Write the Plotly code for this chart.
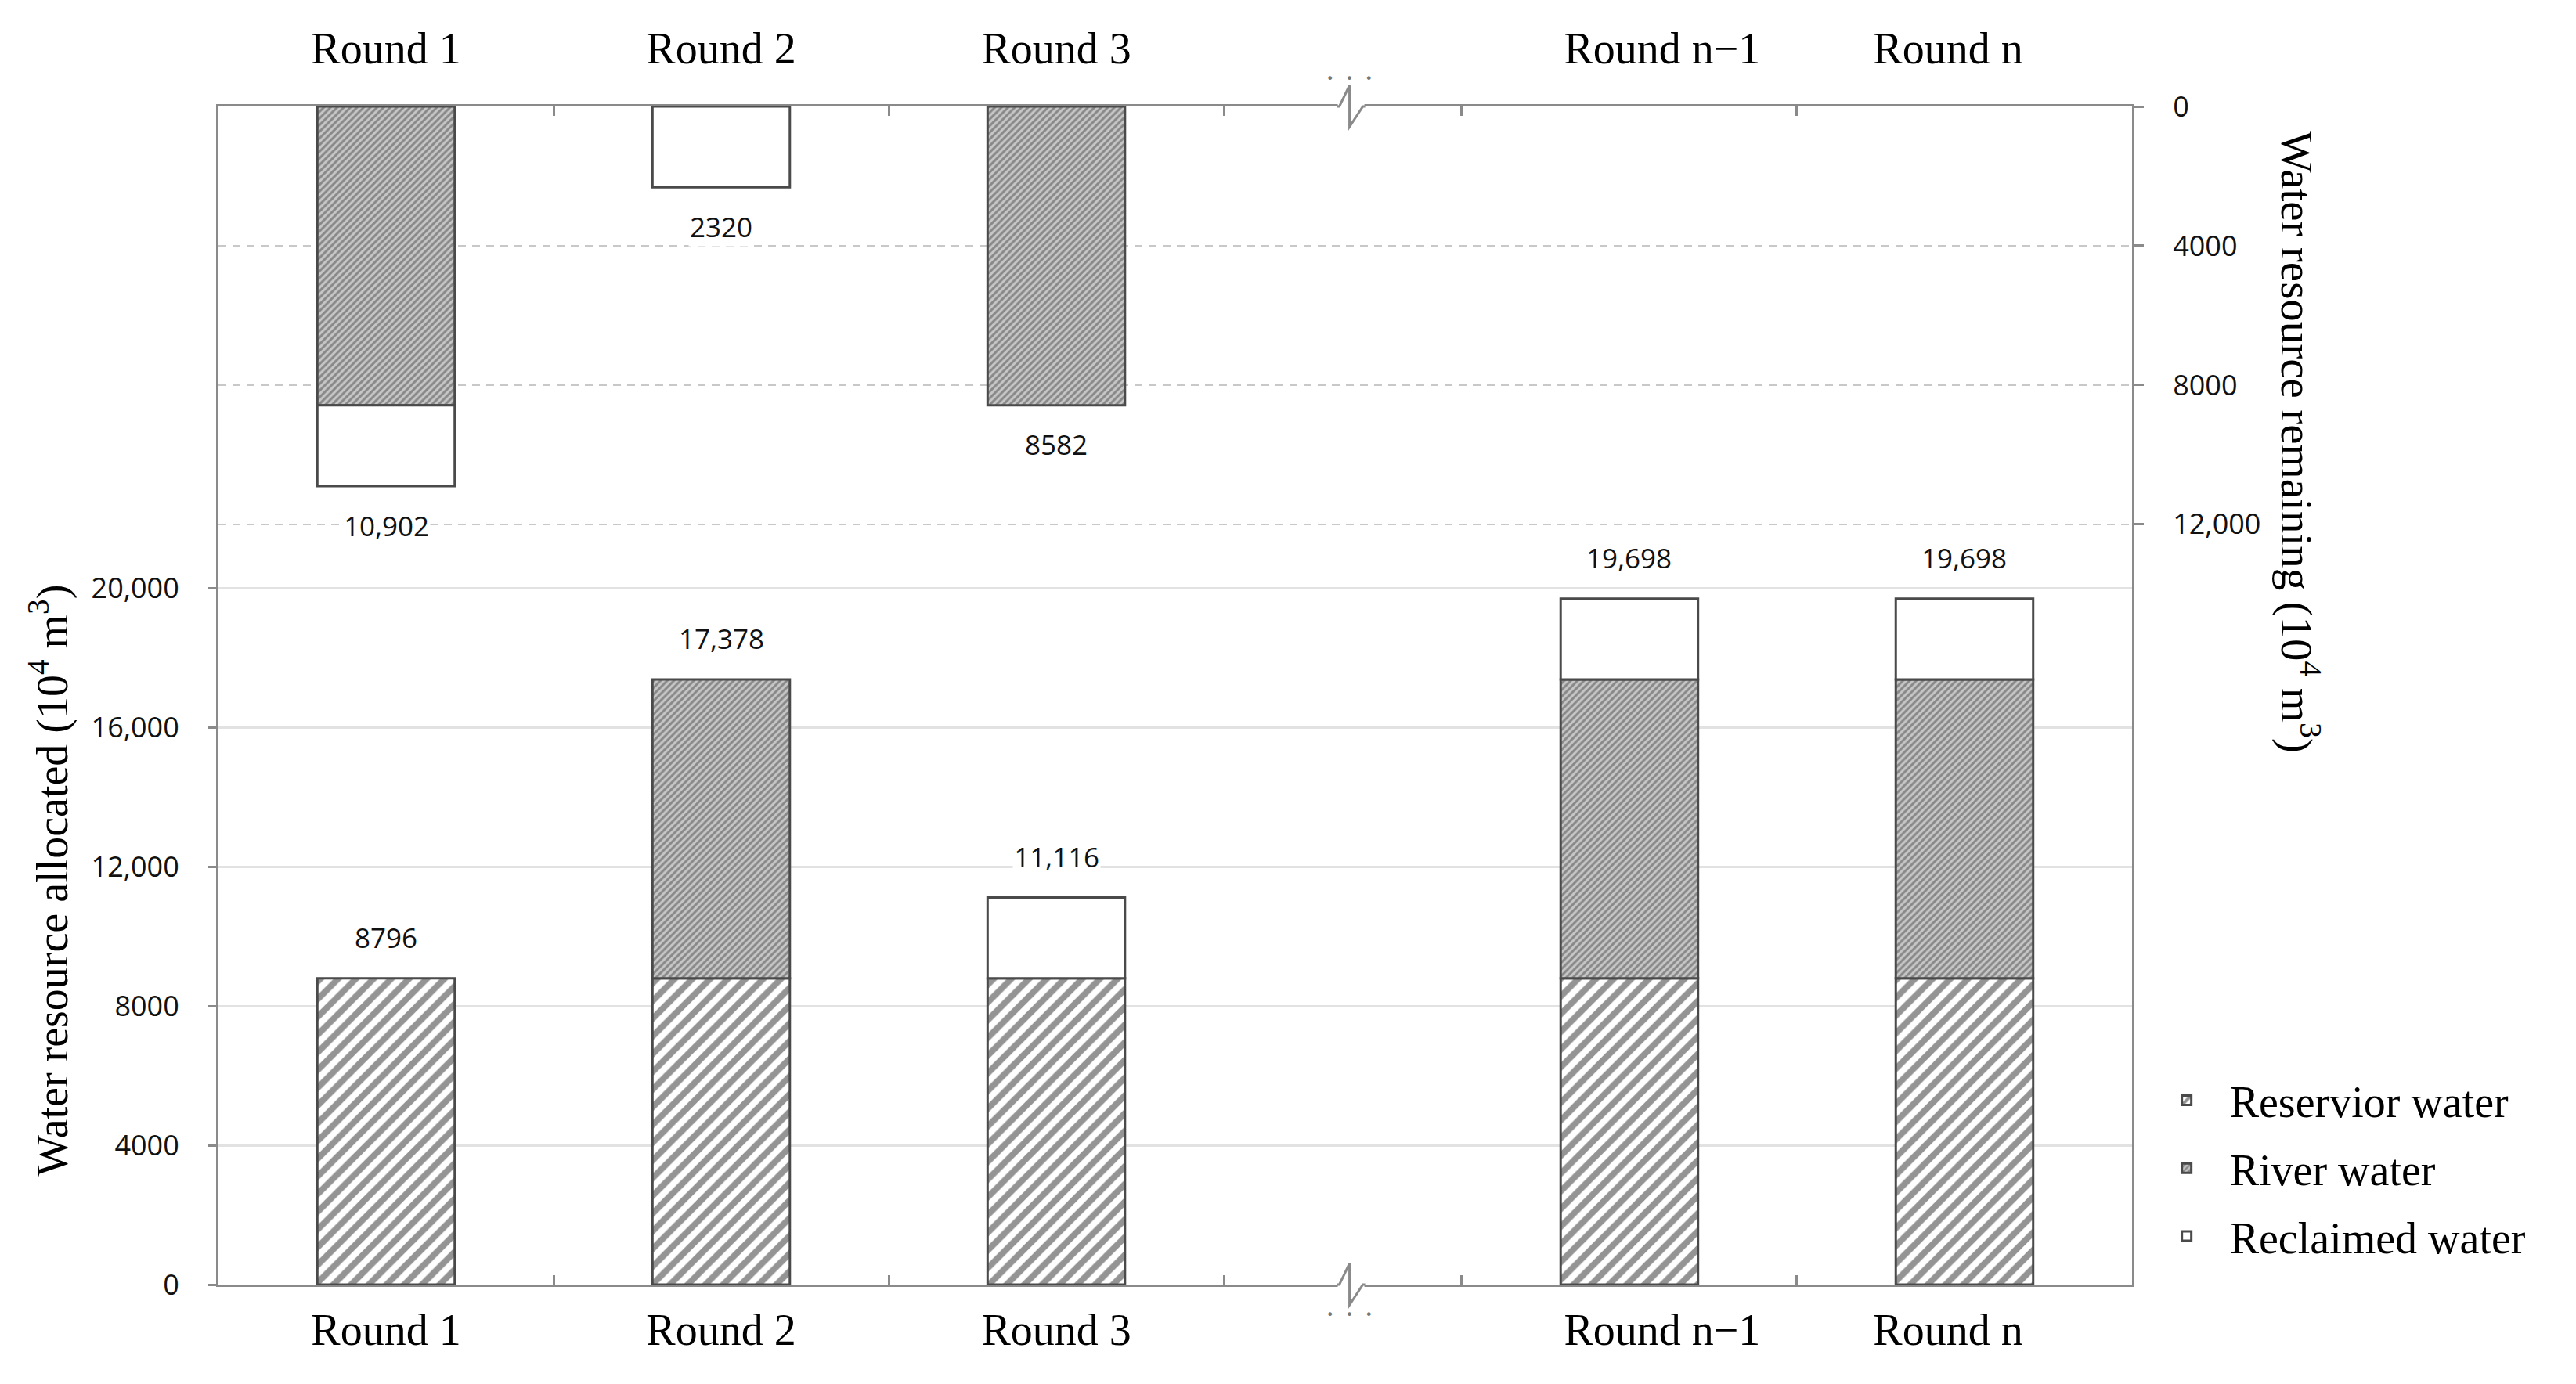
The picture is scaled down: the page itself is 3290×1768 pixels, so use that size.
import plotly.graph_objects as go

# ---------------- data ----------------
categories = ["Round 1", "Round 2", "Round 3", "Round n\u22121", "Round n"]

# water resource allocated (bottom bars, left axis)
alloc_reservoir = [8796, 8796, 8796, 8796, 8796]
alloc_river = [0, 8582, 0, 8582, 8582]
alloc_reclaimed = [0, 0, 2320, 2320, 2320]

# water resource remaining (top bars, right reversed axis)
remain_river = [8582, 0, 8582, 0, 0]
remain_reclaimed = [2320, 2320, 0, 0, 0]

left_ticks = [0, 4000, 8000, 12000, 16000, 20000]
right_ticks = [0, 4000, 8000, 12000]

series_names = ["Reservior water", "River water", "Reclaimed water"]

# ---------------- style ----------------
SERIF = "Liberation Serif, Times New Roman, serif"
NUMF = "Open Sans, DejaVu Sans, sans-serif"
AXIS = "#8a8a8a"
EDGE = "#4a4a4a"
Y_MAX = 33830
BAR_W = 0.41
GAP = 0.71          # extra space for the axis break
BREAK_AFTER = 3     # break between index 2 and 3
LABEL_NUDGE = [0, 0, 0, 0.098, -0.049]   # category label placement tweak

x_pos = [i + (GAP if i >= BREAK_AFTER else 0) for i in range(len(categories))]
label_pos = [p + d for p, d in zip(x_pos, LABEL_NUDGE)]
x_range = [x_pos[0] - 0.5, x_pos[-1] + 0.5]
boundaries = []
for i in range(len(x_pos) - 1):
    if i + 1 == BREAK_AFTER:
        boundaries += [x_pos[i] + 0.5, x_pos[i + 1] - 0.5]
    else:
        boundaries.append((x_pos[i] + x_pos[i + 1]) / 2)
break_x = (x_pos[BREAK_AFTER - 1] + x_pos[BREAK_AFTER]) / 2 + 0.02


def fmt(v):
    return f"{v:,}" if v >= 10000 else str(v)


def nz(vals):
    return [v if v > 0 else None for v in vals]


patterns = [
    dict(shape="/", fgcolor="#2a2a2a", bgcolor="white", size=16, solidity=0.5),
    dict(shape="/", fgcolor="#4a4a4a", bgcolor="#c6c6c6", size=6, solidity=0.5),
    dict(shape="", fgcolor="white", bgcolor="white"),
]

fig = go.Figure()

# bottom stacked bars
alloc_series = [alloc_reservoir, alloc_river, alloc_reclaimed]
base = [0] * len(categories)
for k, vals in enumerate(alloc_series):
    fig.add_trace(go.Bar(
        x=x_pos, y=nz(vals), base=base[:], width=BAR_W,
        name=series_names[k], legendgroup=f"g{k}", showlegend=True,
        marker=dict(color="white", pattern=patterns[k],
                    line=dict(color=EDGE, width=3)),
        xaxis="x", yaxis="y", hoverinfo="skip",
    ))
    base = [b + v for b, v in zip(base, vals)]
alloc_totals = base

# top stacked bars (hanging from top axis)
remain_series = [(1, remain_river), (2, remain_reclaimed)]
base = [0] * len(categories)
for k, vals in remain_series:
    fig.add_trace(go.Bar(
        x=x_pos, y=nz(vals), base=base[:], width=BAR_W,
        name=series_names[k], legendgroup=f"g{k}", showlegend=False,
        marker=dict(color="white", pattern=patterns[k],
                    line=dict(color=EDGE, width=3)),
        xaxis="x2", yaxis="y2", hoverinfo="skip",
    ))
    base = [b + v for b, v in zip(base, vals)]
remain_totals = base

# value labels
for xp, tot in zip(x_pos, alloc_totals):
    fig.add_annotation(x=xp, y=tot, xref="x", yref="y", text=fmt(tot),
                       showarrow=False, yshift=52, bgcolor="white",
                       font=dict(family=NUMF, size=35, color="#111"))
for xp, tot in zip(x_pos, remain_totals):
    if tot > 0:
        fig.add_annotation(x=xp, y=tot, xref="x2", yref="y2", text=fmt(tot),
                           showarrow=False, yshift=-50, bgcolor="white",
                           font=dict(family=NUMF, size=35, color="#111"))

# axis titles
fig.add_annotation(xref="paper", yref="paper", x=-0.0884, y=0.343,
                   text="Water resource allocated (10<sup>4</sup> m<sup>3</sup>)",
                   textangle=-90, showarrow=False, xanchor="center", yanchor="middle",
                   font=dict(family=SERIF, size=56, color="black"))
fig.add_annotation(xref="paper", yref="paper", x=1.088, y=0.7156,
                   text="Water resource remaining (10<sup>4</sup> m<sup>3</sup>)",
                   textangle=90, showarrow=False, xanchor="center", yanchor="middle",
                   font=dict(family=SERIF, size=57, color="black"))

# axis break marks (top and bottom)
for yy, dots_shift in [(0, -50), (1, 47)]:
    fig.add_shape(type="rect", xref="x", yref="paper", xsizemode="pixel",
                  ysizemode="pixel", xanchor=break_x, yanchor=yy,
                  x0=-15, x1=19, y0=-3, y1=3, fillcolor="white",
                  line=dict(width=0), layer="above")
    fig.add_shape(type="path", xref="x", yref="paper", xsizemode="pixel",
                  ysizemode="pixel", xanchor=break_x, yanchor=yy,
                  path="M-16,0 L-13,0 L0,27 L0,-26 L17,0 L20,0",
                  line=dict(color=AXIS, width=3), layer="above")
    fig.add_annotation(x=break_x, y=yy, xref="x", yref="paper",
                       text="\u2022\u00a0\u00a0\u00a0\u2022\u00a0\u00a0\u00a0\u2022",
                       showarrow=False, yshift=dots_shift,
                       font=dict(family="DejaVu Sans", size=16, color="#777"))

xcommon = dict(range=x_range, tickvals=label_pos, ticktext=categories, ticks="",
               showline=True, linecolor=AXIS, linewidth=3, showgrid=False,
               zeroline=False, tickfont=dict(family=SERIF, size=56, color="black"),
               minor=dict(tickvals=boundaries, ticks="inside", ticklen=12,
                          tickwidth=3, tickcolor=AXIS, showgrid=False))

fig.update_layout(
    width=3290, height=1768, autosize=False,
    margin=dict(l=279, r=567, t=136, b=127, pad=0),
    plot_bgcolor="white", paper_bgcolor="white", barmode="overlay",
    xaxis=dict(**xcommon, ticklabelstandoff=7),
    xaxis2=dict(**xcommon, overlaying="x", side="top", ticklabelstandoff=30),
    yaxis=dict(range=[0, Y_MAX], tickvals=left_ticks,
               ticktext=[fmt(v) for v in left_ticks], ticks="outside",
               ticklen=10, tickwidth=3, tickcolor=AXIS, showline=True,
               linecolor=AXIS, linewidth=3, showgrid=True, gridcolor="#e2e2e2",
               gridwidth=3, zeroline=False, ticklabelstandoff=30,
               tickfont=dict(family=NUMF, size=36, color="#111")),
    yaxis2=dict(range=[Y_MAX, 0], overlaying="y", side="right",
                tickvals=right_ticks, ticktext=[fmt(v) for v in right_ticks],
                ticks="outside", ticklen=12, tickwidth=3, tickcolor=AXIS,
                showline=True, linecolor=AXIS, linewidth=3, showgrid=True,
                gridcolor="#c8c8c8", gridwidth=2, griddash="10px,8px",
                zeroline=False, ticklabelstandoff=30,
                tickfont=dict(family=NUMF, size=36, color="#111")),
    legend=dict(x=1.006, xanchor="left", y=0.185, yanchor="top",
                font=dict(family=SERIF, size=56, color="black"),
                itemwidth=100, tracegroupgap=11, traceorder="grouped",
                bgcolor="rgba(0,0,0,0)"),
    showlegend=True,
)

fig.write_html("out.html", config={"displayModeBar": False},
               post_script="document.body.style.margin='0';document.body.style.overflow='hidden';")
